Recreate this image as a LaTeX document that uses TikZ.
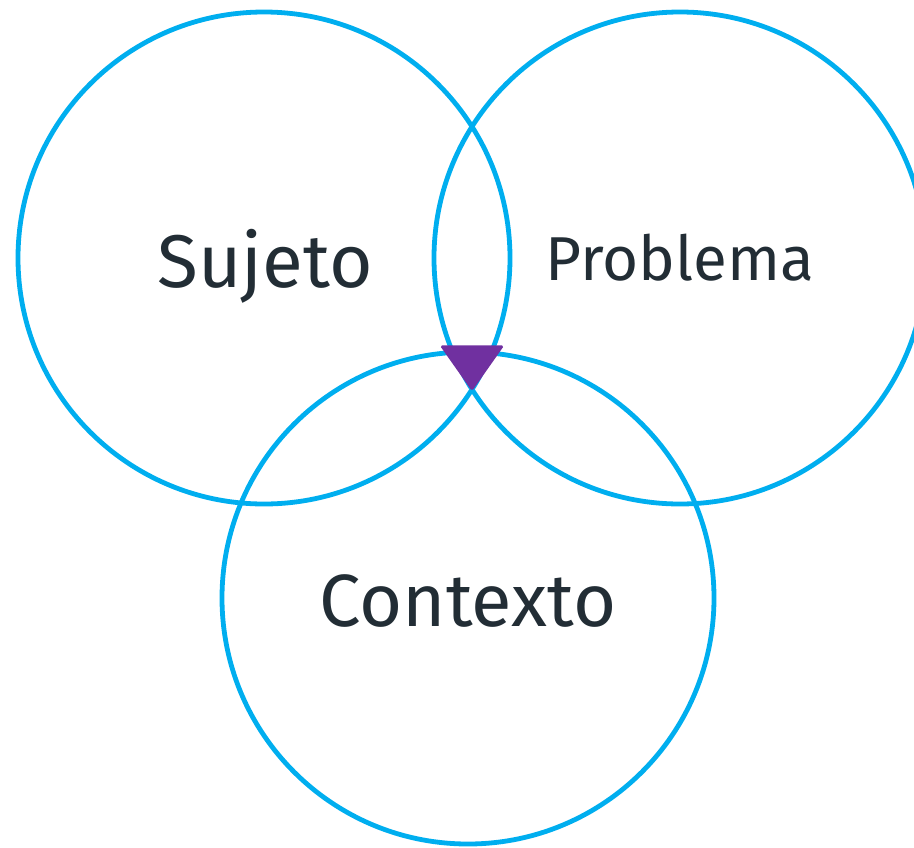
\documentclass[tikz,border=0pt]{standalone}
\usepackage{fontspec}
\setmainfont{Fira Sans}
\usepackage{xcolor}
\definecolor{ringblue}{HTML}{00AEEF}
\definecolor{markpurple}{HTML}{7030A0}
\definecolor{labeltext}{HTML}{222D35}
\tikzset{
  ring/.style={circle, draw=ringblue, line width=3.6pt, minimum size=369pt, inner sep=0pt},
  ringlabel/.style={text=labeltext, inner sep=0pt}
}
\begin{document}
\begin{tikzpicture}[x=0.75pt, y=-0.75pt]
					\useasboundingbox (0,0) rectangle (914,847);
					\node[ring] (sujeto) at (264,258) {};
					\node[ring] (problema) at (680,258) {};
					\node[ring] (contexto) at (468,598) {};
					
					\node[ringlabel, font=\fontsize{56}{60}\selectfont] (sujetotxt) at (265,266) {Sujeto};
					\node[ringlabel, font=\fontsize{46.5}{50}\selectfont] (problematxt) at (680,258) {Problema};
					\node[ringlabel, font=\fontsize{55.5}{60}\selectfont] (contextotxt) at (468,601) {Contexto};
					
					\fill[markpurple, draw=markpurple, line width=1pt, rounded corners=1pt] (441,346) -- (503,346) -- (472,390) -- cycle;
				\end{tikzpicture}
\end{document}
